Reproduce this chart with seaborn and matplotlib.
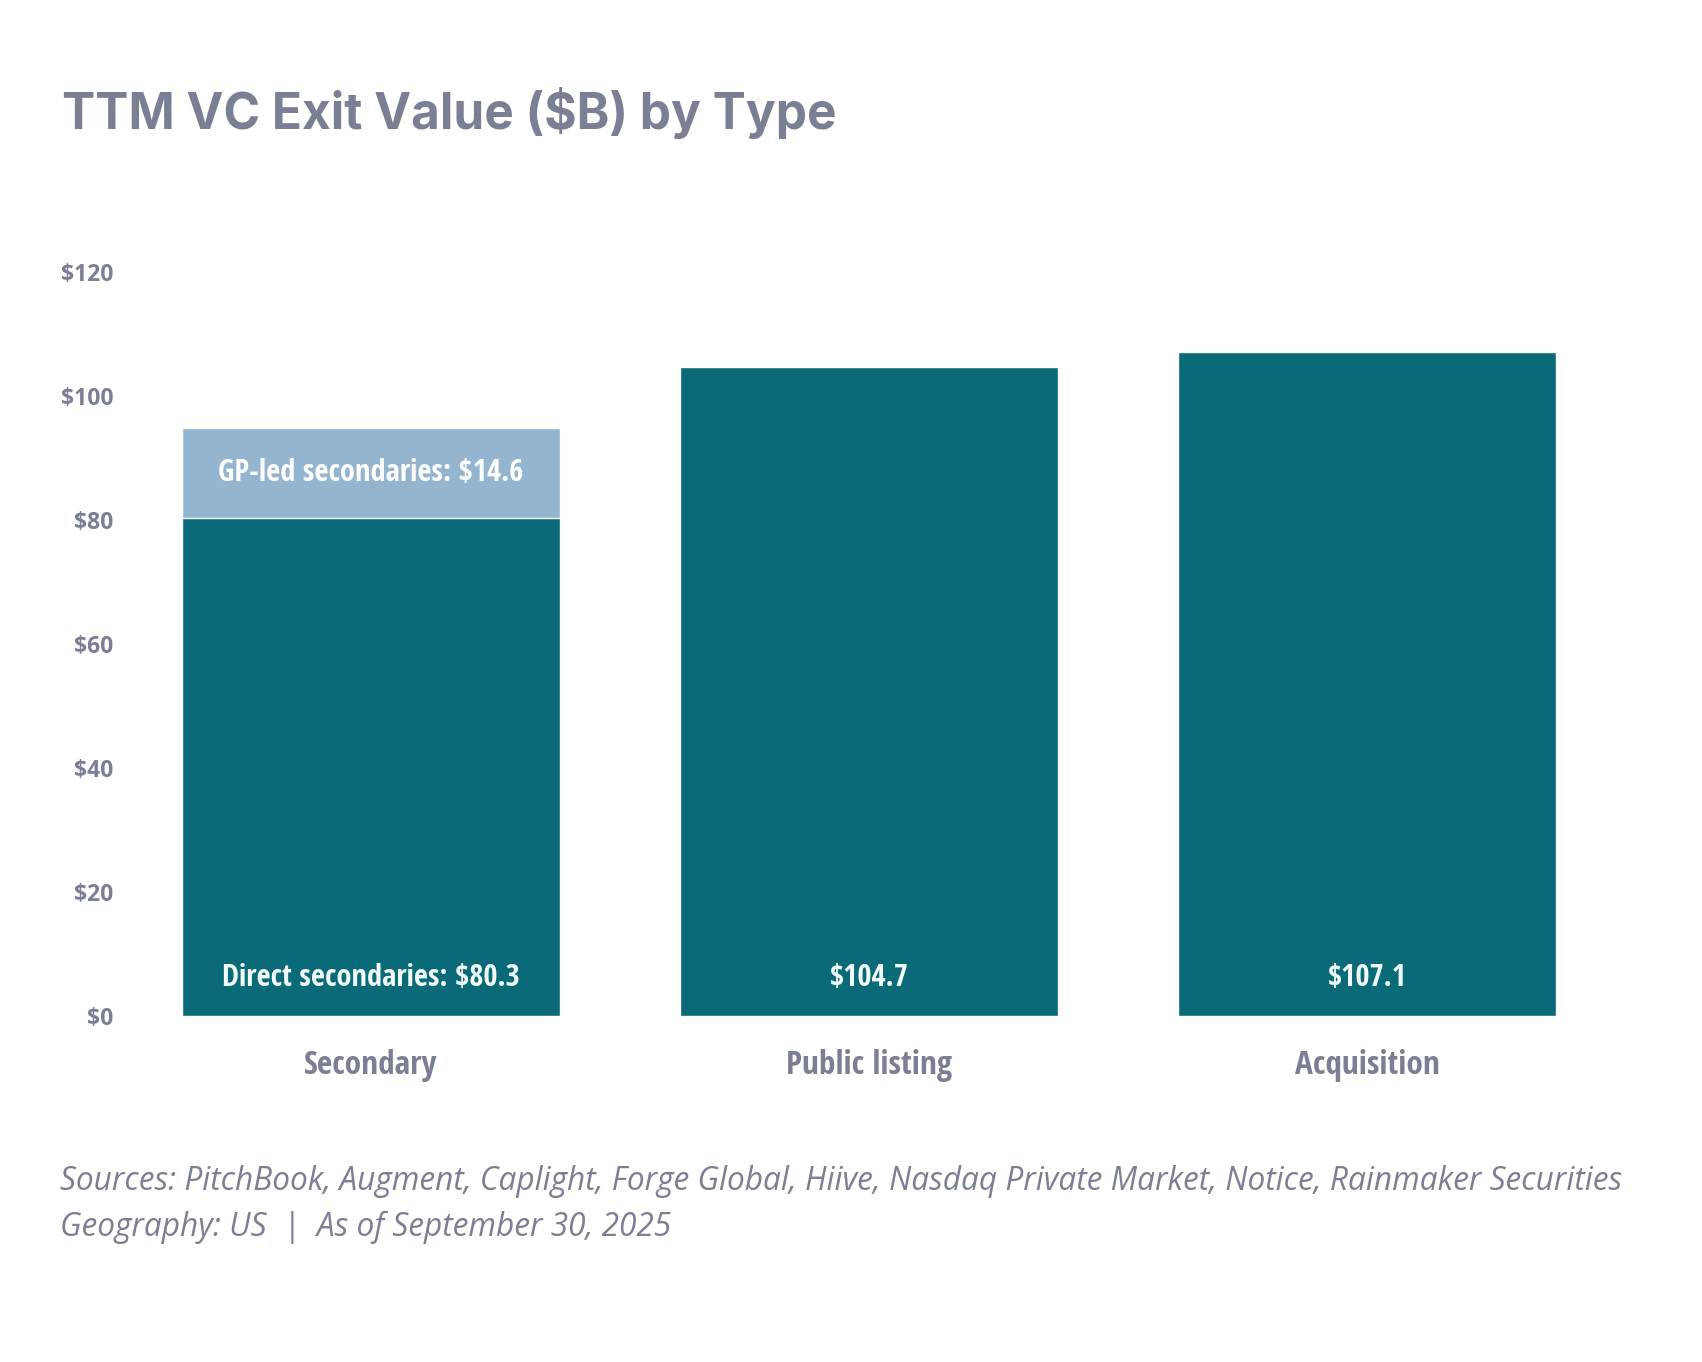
import numpy as np
import pandas as pd
import matplotlib.pyplot as plt
import seaborn as sns

categories = ["Secondary", "Public listing", "Acquisition"]
direct_values = [80.3, 104.7, 107.1]
gp_led_values = [14.6, 0.0, 0.0]
bar_labels = ["Direct secondaries: $80.3", "$104.7", "$107.1"]
gp_label = "GP-led secondaries: $14.6"
y_ticks = [0, 20, 40, 60, 80, 100, 120]

title = "TTM VC Exit Value ($B) by Type"
source_line = "Sources: PitchBook, Augment, Caplight, Forge Global, Hiive, Nasdaq Private Market, Notice, Rainmaker Securities"
geo_line = "Geography: US  |  As of September 30, 2025"

TEAL = "#0b6a78"
LIGHT = "#93b5cf"
GREY = "#7b7f94"
NARROW = ["Open Sans Condensed", "Open Sans"]

sns.set_theme(style="white")
plt.rcParams["font.family"] = ["Open Sans", "DejaVu Sans"]

df = pd.DataFrame({
    "type": categories,
    "direct": direct_values,
    "total": np.array(direct_values) + np.array(gp_led_values),
})

W, H = 1702, 1362
fig = plt.figure(figsize=(W / 100, H / 100), dpi=100)
ax = fig.add_axes([122 / W, 1 - 1016 / H, 1494 / W, 744 / H])

# stacked look: totals in light blue first, direct values over them in teal
sns.barplot(data=df, x="type", y="total", color=LIGHT, width=0.76,
            saturation=1, ax=ax)
sns.barplot(data=df, x="type", y="direct", color=TEAL, width=0.76,
            saturation=1, ax=ax)

ax.set_xlim(-0.5, 2.5)
ax.set_ylim(0, 120)
ax.set_yticks(y_ticks)
ax.set_yticklabels([f"${v}" for v in y_ticks], fontsize=16.5, fontweight="bold",
                   color=GREY, family=["Open Sans", "DejaVu Sans"])
ax.set_xticks(range(len(categories)))
ax.set_xticklabels(categories, fontsize=24, color=GREY, family=NARROW)
ax.tick_params(axis="y", length=0, pad=6)
ax.tick_params(axis="x", length=0, pad=24)
ax.set_xlabel("")
ax.set_ylabel("")
sns.despine(ax=ax, left=True, bottom=True)

for i, lbl in enumerate(bar_labels):
    ax.annotate(lbl, xy=(i, 0), xytext=(0, 27), textcoords="offset points",
                ha="center", va="center", fontsize=22, color="#f2fbfb",
                family=NARROW)

ax.text(0, direct_values[0] + gp_led_values[0] / 2, gp_label, ha="center",
        va="center", fontsize=22, color="white", family=NARROW)

fig.text(62 / W, 1 - 113 / H, title, ha="left", va="center", fontsize=35.7,
         fontweight="bold", color=GREY, family=["Inter", "Lato", "DejaVu Sans"])
fig.text(60 / W, 1 - 1182 / H, source_line, ha="left", va="center",
         fontsize=22.8, style="italic", color=GREY)
fig.text(60 / W, 1 - 1227 / H, geo_line, ha="left", va="center",
         fontsize=22.8, style="italic", color=GREY)

fig.savefig("out.png", dpi=100, facecolor="white")
